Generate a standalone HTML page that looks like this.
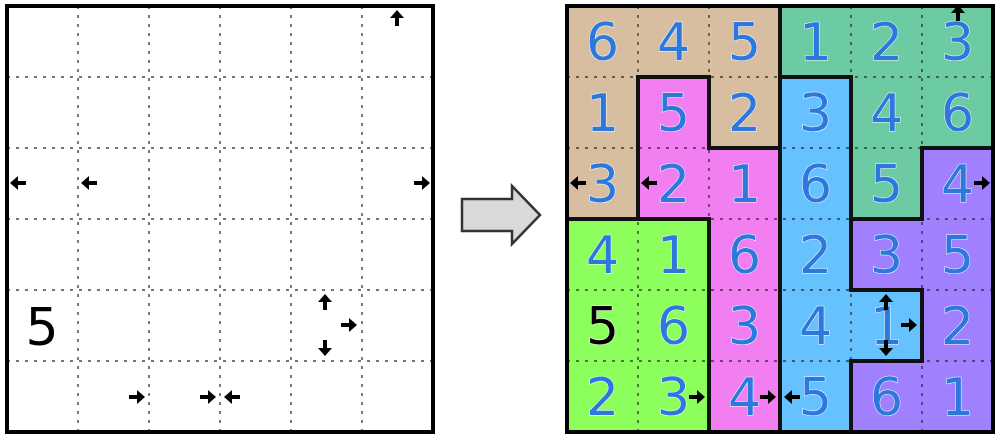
<!DOCTYPE html>
<html><head><meta charset="utf-8"><style>body{margin:0;background:#fff}svg{display:block}</style></head><body>
<svg width="1000" height="438" viewBox="0 0 1000 438" xmlns="http://www.w3.org/2000/svg">
<defs>
<g id="ar"><rect x="-8" y="-2" width="9" height="4" fill="#000"/><polygon points="0,-7 8,0 0,7" fill="#000"/></g>
</defs>
<!-- LEFT GRID -->
<g stroke="#222" stroke-width="1.2" stroke-dasharray="3,6">
<line x1="78" y1="6" x2="78" y2="432"/><line x1="149" y1="6" x2="149" y2="432"/><line x1="220" y1="6" x2="220" y2="432"/><line x1="291" y1="6" x2="291" y2="432"/><line x1="362" y1="6" x2="362" y2="432"/>
<line x1="7" y1="77" x2="433" y2="77"/><line x1="7" y1="148" x2="433" y2="148"/><line x1="7" y1="219" x2="433" y2="219"/><line x1="7" y1="290" x2="433" y2="290"/><line x1="7" y1="361" x2="433" y2="361"/>
</g>
<rect x="7" y="6" width="426" height="426" fill="none" stroke="#000" stroke-width="4"/>
<text x="42" y="345" font-family="DejaVu Sans, Liberation Sans, sans-serif" font-size="52" text-anchor="middle" fill="#000">5</text>
<g>
<use href="#ar" transform="translate(397,18) rotate(-90)"/>
<use href="#ar" transform="translate(18,183) rotate(180)"/>
<use href="#ar" transform="translate(89,183) rotate(180)"/>
<use href="#ar" transform="translate(422,183)"/>
<use href="#ar" transform="translate(325,302) rotate(-90)"/>
<use href="#ar" transform="translate(349,325)"/>
<use href="#ar" transform="translate(325,348) rotate(90)"/>
<use href="#ar" transform="translate(137,397)"/>
<use href="#ar" transform="translate(208,397)"/>
<use href="#ar" transform="translate(232,397) rotate(180)"/>
</g>
<!-- big arrow -->
<polygon points="462,199 512,199 512,186 540,215 512,244 512,231 462,231" fill="#d9d9d9" stroke="#333" stroke-width="2.5"/>
<!-- RIGHT GRID colors -->
<g>
<rect x="567" y="6" width="213" height="71" fill="#d8bea0"/>
<rect x="567" y="77" width="71" height="142" fill="#d8bea0"/>
<rect x="709" y="77" width="71" height="71" fill="#d8bea0"/>
<rect x="780" y="6" width="213" height="71" fill="#6ccba2"/>
<rect x="851" y="77" width="142" height="71" fill="#6ccba2"/>
<rect x="851" y="148" width="71" height="71" fill="#6ccba2"/>
<rect x="638" y="77" width="71" height="142" fill="#f27ff2"/>
<rect x="709" y="148" width="71" height="284" fill="#f27ff2"/>
<rect x="780" y="77" width="71" height="355" fill="#66c2ff"/>
<rect x="851" y="290" width="71" height="71" fill="#66c2ff"/>
<rect x="922" y="148" width="71" height="284" fill="#a080ff"/>
<rect x="851" y="219" width="71" height="71" fill="#a080ff"/>
<rect x="851" y="361" width="71" height="71" fill="#a080ff"/>
<rect x="567" y="219" width="142" height="213" fill="#8cff5c"/>
</g>
<g stroke="#222" stroke-width="1.2" stroke-dasharray="3,6">
<line x1="638" y1="6" x2="638" y2="432"/><line x1="709" y1="6" x2="709" y2="432"/><line x1="780" y1="6" x2="780" y2="432"/><line x1="851" y1="6" x2="851" y2="432"/><line x1="922" y1="6" x2="922" y2="432"/>
<line x1="567" y1="77" x2="993" y2="77"/><line x1="567" y1="148" x2="993" y2="148"/><line x1="567" y1="219" x2="993" y2="219"/><line x1="567" y1="290" x2="993" y2="290"/><line x1="567" y1="361" x2="993" y2="361"/>
</g>
<g stroke="#111" stroke-width="4" stroke-linecap="square">
<line x1="780" y1="6" x2="780" y2="77"/>
<line x1="638" y1="77" x2="638" y2="219"/>
<line x1="709" y1="77" x2="709" y2="148"/>
<line x1="780" y1="77" x2="780" y2="432"/>
<line x1="851" y1="77" x2="851" y2="290"/>
<line x1="922" y1="148" x2="922" y2="219"/>
<line x1="709" y1="219" x2="709" y2="432"/>
<line x1="922" y1="290" x2="922" y2="361"/>
<line x1="851" y1="361" x2="851" y2="432"/>
<line x1="567" y1="219" x2="709" y2="219"/>
<line x1="638" y1="77" x2="709" y2="77"/>
<line x1="709" y1="148" x2="780" y2="148"/>
<line x1="780" y1="77" x2="851" y2="77"/>
<line x1="851" y1="219" x2="922" y2="219"/>
<line x1="851" y1="290" x2="922" y2="290"/>
<line x1="851" y1="361" x2="922" y2="361"/>
<line x1="922" y1="148" x2="993" y2="148"/>
</g>
<rect x="567" y="6" width="426" height="426" fill="none" stroke="#000" stroke-width="4"/>
<g font-family="DejaVu Sans, Liberation Sans, sans-serif" font-size="52" text-anchor="middle" fill="#2d78dc" stroke="#fff" stroke-width="1" paint-order="stroke">
<text x="602.5" y="60">6</text><text x="673.5" y="60">4</text><text x="744.5" y="60">5</text><text x="815.5" y="60">1</text><text x="886.5" y="60">2</text><text x="957.5" y="60">3</text>
<text x="602.5" y="131">1</text><text x="673.5" y="131">5</text><text x="744.5" y="131">2</text><text x="815.5" y="131">3</text><text x="886.5" y="131">4</text><text x="957.5" y="131">6</text>
<text x="602.5" y="202">3</text><text x="673.5" y="202">2</text><text x="744.5" y="202">1</text><text x="815.5" y="202">6</text><text x="886.5" y="202">5</text><text x="957.5" y="202">4</text>
<text x="602.5" y="273">4</text><text x="673.5" y="273">1</text><text x="744.5" y="273">6</text><text x="815.5" y="273">2</text><text x="886.5" y="273">3</text><text x="957.5" y="273">5</text>
<text x="602.5" y="344" fill="#000">5</text><text x="673.5" y="344">6</text><text x="744.5" y="344">3</text><text x="815.5" y="344">4</text><text x="886.5" y="344">1</text><text x="957.5" y="344">2</text>
<text x="602.5" y="415">2</text><text x="673.5" y="415">3</text><text x="744.5" y="415">4</text><text x="815.5" y="415">5</text><text x="886.5" y="415">6</text><text x="957.5" y="415">1</text>
</g>
<g>
<use href="#ar" transform="translate(958,13) rotate(-90)"/>
<use href="#ar" transform="translate(578,183) rotate(180)"/>
<use href="#ar" transform="translate(649,183) rotate(180)"/>
<use href="#ar" transform="translate(982,183)"/>
<use href="#ar" transform="translate(886,302) rotate(-90)"/>
<use href="#ar" transform="translate(909,325)"/>
<use href="#ar" transform="translate(886,348) rotate(90)"/>
<use href="#ar" transform="translate(697,397)"/>
<use href="#ar" transform="translate(768,397)"/>
<use href="#ar" transform="translate(792,397) rotate(180)"/>
</g>
</svg>
</body></html>
